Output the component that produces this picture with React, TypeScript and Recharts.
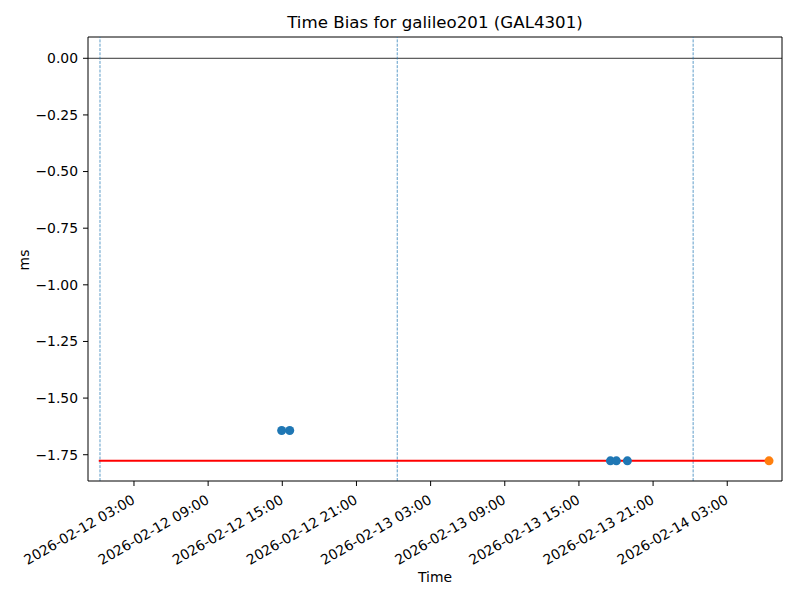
import React from 'react';
import {
  ComposedChart,
  XAxis,
  YAxis,
  Scatter,
  ReferenceLine,
  Label,
} from 'recharts';

// x values are hours since 2026-02-12 00:00
const xTicks = [3, 9, 15, 21, 27, 33, 39, 45, 51];
const yTicks = [0, -0.25, -0.5, -0.75, -1.0, -1.25, -1.5, -1.75];
const xDomain = [-0.72, 55.43];
const yDomain = [-1.866, 0.094];

const biasPoints = [
  { x: 14.95, y: -1.643 },
  { x: 15.6, y: -1.643 },
  { x: 41.55, y: -1.777 },
  { x: 42.03, y: -1.777 },
  { x: 42.92, y: -1.777 },
];
const latestPoint = [{ x: 54.38, y: -1.777 }];
const fitLine = [
  { x: 0.15, y: -1.777 },
  { x: 54.38, y: -1.777 },
];
const dayMarkers = [0.25, 24.3, 48.24];

const FONT = 'DejaVu Sans, sans-serif';

const fmtDate = (h: number) => {
  const day = 12 + Math.floor(h / 24);
  const hh = Math.round(h - Math.floor(h / 24) * 24);
  return `2026-02-${String(day).padStart(2, '0')} ${String(hh).padStart(2, '0')}:00`;
};

const XTick = (props: any) => {
  const { x, y, payload } = props;
  return (
    <g transform={`translate(${x - 3},${y + 8})`}>
      <text
        x={0}
        y={0}
        dy="0.72em"
        transform="rotate(-30)"
        textAnchor="end"
        fontSize={13.9}
        fontFamily={FONT}
        fill="#000"
      >
        {fmtDate(payload.value)}
      </text>
    </g>
  );
};

const dot = (color: string) => (p: any) =>
  <circle cx={p.cx} cy={p.cy} r={4.5} fill={color} />;

export default function App() {
  return (
    <div style={{ position: 'absolute', left: 0, top: 0, width: 800, height: 600, background: '#fff' }}>
      <ComposedChart
        width={800}
        height={600}
        margin={{ top: 37, right: 18, left: 0, bottom: 0 }}
      >
        <XAxis
          type="number"
          dataKey="x"
          domain={xDomain}
          ticks={xTicks}
          allowDataOverflow
          height={119}
          tickSize={5}
          tickMargin={0}
          stroke="#000"
          tickLine={{ stroke: '#000' }}
          axisLine={{ stroke: '#000' }}
          tick={<XTick />}
          interval={0}
        >
          <Label
            content={() => (
              <g>
                <text x={435} y={582} textAnchor="middle" fontSize={13.9} fontFamily={FONT} fill="#000">
                  Time
                </text>
                <text x={435} y={28} textAnchor="middle" fontSize={16.67} fontFamily={FONT} fill="#000">
                  Time Bias for galileo201 (GAL4301)
                </text>
              </g>
            )}
          />
        </XAxis>
        <YAxis
          type="number"
          dataKey="y"
          domain={yDomain}
          ticks={yTicks}
          allowDataOverflow
          width={88}
          tickSize={5}
          tickMargin={5}
          tickLine={{ stroke: '#000' }}
          axisLine={{ stroke: '#000' }}
          tick={{ fill: '#000', fontSize: 13.9, fontFamily: FONT }}
          tickFormatter={(v: number) => v.toFixed(2).replace('-', '\u2212')}
          interval={0}
        >
          <Label
            content={() => (
              <text
                x={29}
                y={260}
                transform="rotate(-90, 29, 260)"
                textAnchor="middle"
                fontSize={13.9}
                fontFamily={FONT}
                fill="#000"
              >
                ms
              </text>
            )}
          />
        </YAxis>
        <ReferenceLine y={yDomain[1]} stroke="#000" strokeWidth={1} />
        <ReferenceLine x={xDomain[1]} stroke="#000" strokeWidth={1} />
        <ReferenceLine y={0} stroke="#000" strokeWidth={0.8} />
        {dayMarkers.map((d) => (
          <ReferenceLine
            key={d}
            x={d}
            stroke="#1f77b4"
            strokeOpacity={0.9}
            strokeWidth={0.8}
            strokeDasharray="3 1.3"
          />
        ))}
        <Scatter
          data={fitLine}
          line={{ stroke: '#ff0000', strokeWidth: 2 }}
          shape={() => <g />}
          isAnimationActive={false}
        />
        <Scatter data={biasPoints} shape={dot('#1f77b4')} isAnimationActive={false} />
        <Scatter data={latestPoint} shape={dot('#ff7f0e')} isAnimationActive={false} />
      </ComposedChart>
    </div>
  );
}
